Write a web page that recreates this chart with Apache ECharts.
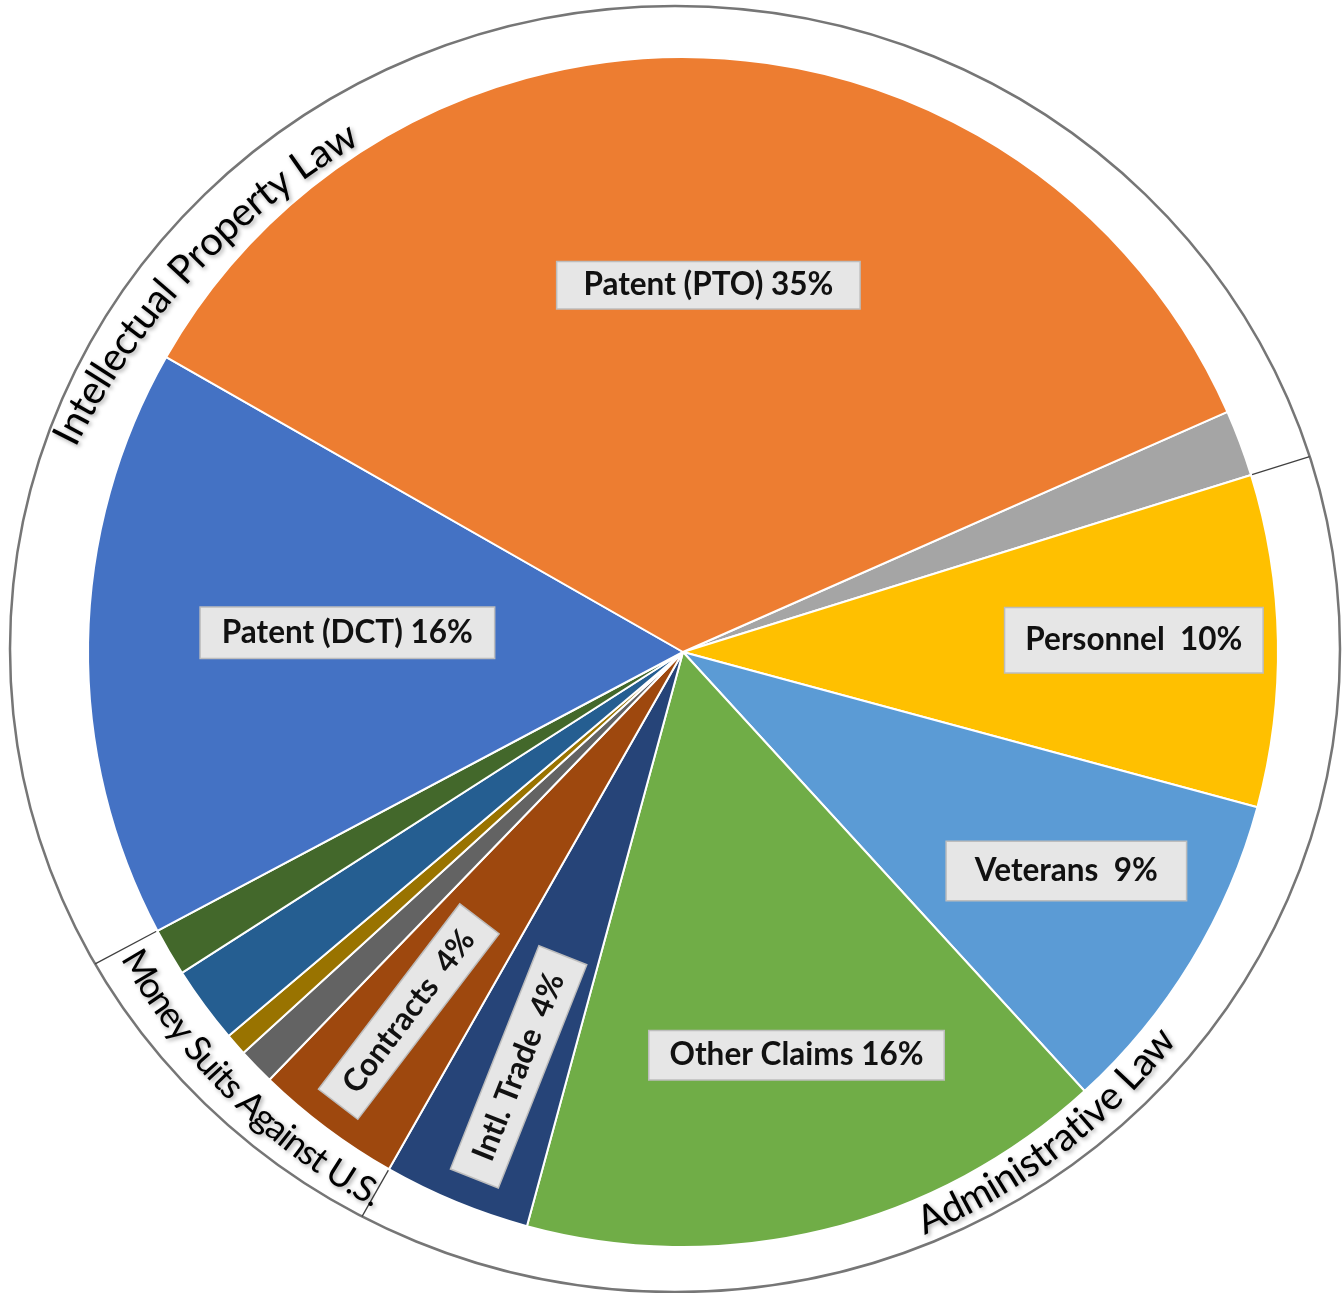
<!DOCTYPE html>
<html>
<head>
<meta charset="utf-8">
<script src="https://cdn.jsdelivr.net/npm/echarts@6/dist/echarts.min.js"></script>
<style>
  html, body { margin: 0; padding: 0; background: #fff; }
  #chart { width: 1344px; height: 1293px; }
</style>
</head>
<body>
<div id="chart"></div>
<script>
// ---- data ----
const categories = ['Other IP', 'Personnel', 'Veterans', 'Other Claims', 'Intl. Trade', 'Contracts',
                    'Money Suit A', 'Money Suit B', 'Money Suit C', 'Money Suit D', 'Patent (DCT)', 'Patent (PTO)'];
const values = [1.8, 9.0, 9.0, 16.0, 4.0, 4.0, 1.0, 0.6, 2.1, 1.3, 16.0, 35.1];
const labelTexts = ['', 'Personnel  10%', 'Veterans  9%', 'Other Claims 16%', 'Intl. Trade  4%', 'Contracts  4%',
                    '', '', '', '', 'Patent (DCT) 16%', 'Patent (PTO) 35%'];
const groupOf = [0, 1, 1, 1, 1, 2, 2, 2, 2, 2, 0, 0];
const groupNames = ['Intellectual Property Law', 'Administrative Law', 'Money Suits Against U.S.'];

// ---- styles ----
const colors = ['#A5A5A5', '#FFC000', '#5B9BD5', '#70AD47', '#264478', '#9E480E',
                '#636363', '#997300', '#255E91', '#43682B', '#4472C4', '#ED7D31'];
const labelRadius = [0, 0.758, 0.742, 0.704, 0.75, 0.76, 0, 0, 0, 0, 0.565, 0.618];
const labelAngleShift = [0, 0.4, 1.6, 2.1, 0.8, -0.5, 0, 0, 0, 0, -2.4, -1.0]; // degrees, ccw
const labelRotate = [false, false, false, false, true, true, false, false, false, false, false, false];
const labelPadding = [[0,0], [16,20], [13,28], [8,20], [9,20], [8,18], [0,0], [0,0], [0,0], [0,0], [9,21], [7,26]];

const CX = 683, CY = 652, R = 595, START = 23.8;
const EL = { cx: 675, cy: 649, rx: 665, ry: 643 };
const total = values.reduce((a, b) => a + b, 0);
const midAngles = [];
const endAngles = [];
let cum = 0;
values.forEach(v => {
  midAngles.push(START - 360 * (cum + v / 2) / total);
  cum += v;
  endAngles.push(START - 360 * cum / total);
});

function ellipseHit(theta) {
  const c = Math.cos(theta * Math.PI / 180), s = Math.sin(theta * Math.PI / 180);
  const dx = CX - EL.cx, dy = CY - EL.cy;
  const a = (c / EL.rx) ** 2 + (s / EL.ry) ** 2;
  const b = 2 * (dx * c / EL.rx ** 2 - dy * s / EL.ry ** 2);
  const k = (dx / EL.rx) ** 2 + (dy / EL.ry) ** 2 - 1;
  const t = (-b + Math.sqrt(b * b - 4 * a * k)) / (2 * a);
  return [CX + t * c, CY - t * s];
}

const graphics = [{
  type: 'ellipse',
  shape: { cx: EL.cx, cy: EL.cy, rx: EL.rx, ry: EL.ry },
  style: { fill: 'none', stroke: '#767676', lineWidth: 2.5 },
  silent: true
}];
// group separators from data boundaries
for (let i = 0; i < values.length; i++) {
  const j = (i + 1) % values.length;
  if (groupOf[i] !== groupOf[j]) {
    const th = endAngles[i];
    const c = Math.cos(th * Math.PI / 180), s = Math.sin(th * Math.PI / 180);
    const p2 = ellipseHit(th);
    graphics.push({
      type: 'line',
      shape: { x1: CX + (R + 1) * c, y1: CY - (R + 1) * s, x2: p2[0], y2: p2[1] },
      style: { stroke: '#404040', lineWidth: 1.3 },
      silent: true
    });
  }
}

// curved group labels: baseline arc (screen angles, clockwise from east)
const groupArcs = [
  { cx: 731, cy: 776, r: 734, a0: 206.6, a1: 239.6, scale: 1.03 },
  { cx: 675, cy: 649, r: 636, a0: 66.9, a1: 38.0, scale: 1.03 },
  { cx: 675, cy: 649, r: 634, a0: 150.7, a1: 118.4, scale: 1.1 }
];
const FONT = 'Lato';
const measureCtx = document.createElement('canvas').getContext('2d');
measureCtx.font = '100px ' + FONT;
groupNames.forEach((g, gi) => {
  const arc = groupArcs[gi];
  const dir = arc.a1 > arc.a0 ? 1 : -1;
  const a0 = arc.a0 * Math.PI / 180, a1 = arc.a1 * Math.PI / 180;
  const arcLen = arc.r * Math.abs(a1 - a0);
  const chars = Array.from(g);
  const w100 = chars.map(ch => measureCtx.measureText(ch).width);
  const sum100 = w100.reduce((a, b) => a + b, 0);
  const fsFit = 100 * arcLen / sum100;
  const fs = fsFit * arc.scale;
  let s = 0;
  chars.forEach((ch, ci) => {
    const w = w100[ci] * fsFit / 100;
    const mid = s + w / 2;
    s += w;
    if (ch === ' ') return;
    const ang = a0 + dir * mid / arc.r;
    const bx = arc.cx + arc.r * Math.cos(ang);
    const by = arc.cy + arc.r * Math.sin(ang);
    const tx = dir > 0 ? -Math.sin(ang) : Math.sin(ang);
    const ty = dir > 0 ? Math.cos(ang) : -Math.cos(ang);
    const rho = Math.atan2(-ty, tx);
    const ux = -Math.sin(rho), uy = -Math.cos(rho);
    const k = 0.3 * fs;
    graphics.push({
      type: 'text',
      x: bx + ux * k,
      y: by + uy * k,
      rotation: rho,
      z: 10,
      style: {
        text: ch,
        font: fs.toFixed(2) + 'px ' + FONT,
        fill: '#000',
        textAlign: 'center',
        textVerticalAlign: 'middle',
        textShadowColor: 'rgba(0,0,0,0.35)',
        textShadowBlur: 4,
        textShadowOffsetX: 2,
        textShadowOffsetY: 2
      },
      silent: true
    });
  });
});

const chart = echarts.init(document.getElementById('chart'));
chart.setOption({
  backgroundColor: '#fff',
  animation: false,
  graphic: graphics,
  series: [{
    type: 'pie',
    center: [CX, CY],
    radius: [0, R],
    startAngle: START,
    clockwise: true,
    avoidLabelOverlap: false,
    silent: true,
    itemStyle: { borderColor: '#fff', borderWidth: 2 },
    labelLine: { show: false },
    data: categories.map((name, i) => ({
      name: name,
      value: values[i],
      itemStyle: { color: colors[i] },
      label: {
        show: labelTexts[i] !== '',
        position: 'inside',
        formatter: labelTexts[i] || ' ',
        fontFamily: FONT,
        fontWeight: 'bold',
        fontSize: 31.5,
        color: '#111',
        backgroundColor: '#e6e6e6',
        borderColor: '#bdbdbd',
        borderWidth: 1.5,
        padding: labelPadding[i]
      }
    })),
    labelLayout: function (p) {
      const i = p.dataIndex;
      const th = midAngles[i] + labelAngleShift[i];
      const r = labelRadius[i] * R;
      return {
        x: CX + r * Math.cos(th * Math.PI / 180),
        y: CY - r * Math.sin(th * Math.PI / 180),
        align: 'center',
        verticalAlign: 'middle',
        rotate: labelRotate[i] ? th + 180 : 0
      };
    }
  }]
});
</script>
</body>
</html>
